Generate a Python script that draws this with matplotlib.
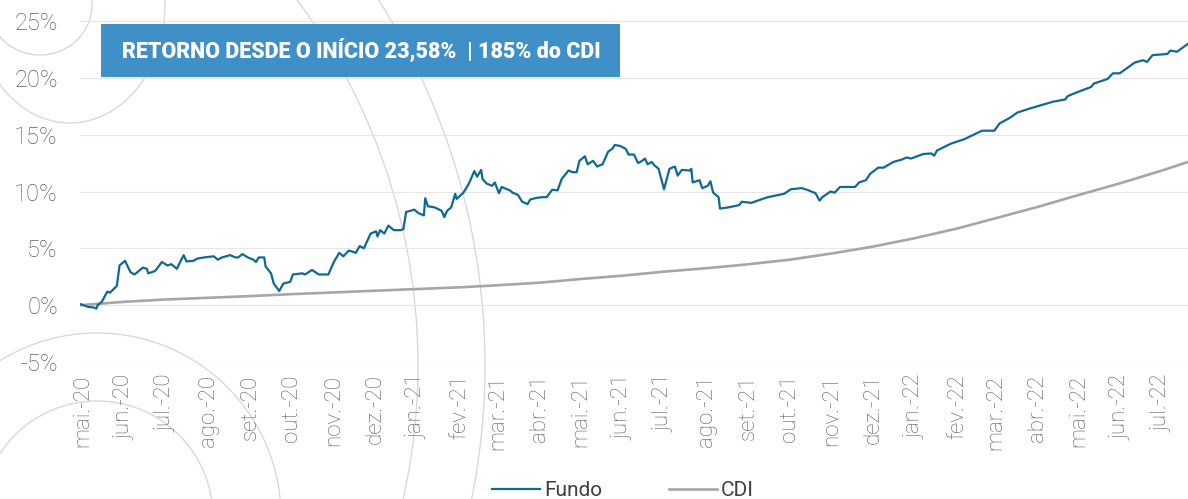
"""
Retorno acumulado do fundo vs CDI (mai/20 - jul/22).
"""
import matplotlib
matplotlib.use("Agg")
import matplotlib.pyplot as plt
from matplotlib.patches import Circle, Ellipse, Rectangle
import pandas as pd

plt.rcParams['font.family'] = ['Roboto', 'DejaVu Sans']
plt.rcParams['axes.unicode_minus'] = False

# --- data (% acumulado) ---
fundo_dates = [
    "2020-04-29", "2020-05-05", "2020-05-09", "2020-05-11", "2020-05-12", "2020-05-15",
    "2020-05-19", "2020-05-21", "2020-05-26", "2020-05-28", "2020-06-01", "2020-06-05",
    "2020-06-08", "2020-06-11", "2020-06-14", "2020-06-17", "2020-06-18", "2020-06-23",
    "2020-06-28", "2020-07-02", "2020-07-05", "2020-07-09", "2020-07-12", "2020-07-14",
    "2020-07-16", "2020-07-21", "2020-07-24", "2020-07-29", "2020-08-05", "2020-08-08",
    "2020-08-11", "2020-08-17", "2020-08-21", "2020-08-23", "2020-08-26", "2020-08-30",
    "2020-09-03", "2020-09-05", "2020-09-07", "2020-09-11", "2020-09-12", "2020-09-16",
    "2020-09-18", "2020-09-22", "2020-09-25", "2020-09-30", "2020-10-02", "2020-10-09",
    "2020-10-11", "2020-10-16", "2020-10-21", "2020-10-28", "2020-11-01", "2020-11-05",
    "2020-11-08", "2020-11-12", "2020-11-15", "2020-11-17", "2020-11-20", "2020-11-23",
    "2020-11-28", "2020-12-02", "2020-12-03", "2020-12-05", "2020-12-08", "2020-12-11",
    "2020-12-15", "2020-12-20", "2020-12-22", "2020-12-24", "2020-12-30", "2021-01-02",
    "2021-01-06", "2021-01-07", "2021-01-09", "2021-01-14", "2021-01-19", "2021-01-21",
    "2021-01-23", "2021-01-26", "2021-01-29", "2021-01-30", "2021-02-04", "2021-02-08",
    "2021-02-12", "2021-02-14", "2021-02-17", "2021-02-18", "2021-02-21", "2021-02-25",
    "2021-02-27", "2021-03-02", "2021-03-04", "2021-03-10", "2021-03-12", "2021-03-16",
    "2021-03-19", "2021-03-23", "2021-03-25", "2021-03-30", "2021-04-03", "2021-04-06",
    "2021-04-10", "2021-04-14", "2021-04-17", "2021-04-22", "2021-04-25", "2021-04-28",
    "2021-04-30", "2021-05-04", "2021-05-06", "2021-05-10", "2021-05-13", "2021-05-17",
    "2021-05-21", "2021-05-24", "2021-05-26", "2021-05-30", "2021-06-03", "2021-06-05",
    "2021-06-09", "2021-06-12", "2021-06-15", "2021-06-17", "2021-06-19", "2021-06-22",
    "2021-06-24", "2021-06-27", "2021-07-01", "2021-07-05", "2021-07-09", "2021-07-11",
    "2021-07-14", "2021-07-20", "2021-07-21", "2021-07-22", "2021-07-27", "2021-07-29",
    "2021-08-02", "2021-08-04", "2021-08-06", "2021-08-10", "2021-08-11", "2021-08-17",
    "2021-08-25", "2021-08-27", "2021-09-03", "2021-09-10", "2021-09-15", "2021-09-23",
    "2021-09-27", "2021-10-02", "2021-10-10", "2021-10-15", "2021-10-20", "2021-10-23",
    "2021-10-25", "2021-10-31", "2021-11-03", "2021-11-07", "2021-11-14", "2021-11-18",
    "2021-11-21", "2021-11-26", "2021-11-29", "2021-12-05", "2021-12-09", "2021-12-16",
    "2021-12-22", "2021-12-26", "2021-12-29", "2022-01-07", "2022-01-13", "2022-01-15",
    "2022-01-17", "2022-01-27", "2022-02-06", "2022-02-19", "2022-02-28", "2022-03-04",
    "2022-03-11", "2022-03-17", "2022-03-26", "2022-04-12", "2022-04-21", "2022-04-23",
    "2022-04-29", "2022-05-10", "2022-05-12", "2022-05-22", "2022-05-26", "2022-05-31",
    "2022-06-11", "2022-06-17", "2022-06-20", "2022-06-24", "2022-07-05", "2022-07-07",
    "2022-07-12", "2022-07-20",
]
fundo_vals = [
    0.1, -0.15, -0.2, -0.3, 0.0, 0.3,
    1.2, 1.1, 1.7, 3.5, 3.9, 2.9,
    2.7, 3.0, 3.3, 3.2, 2.8, 3.0,
    3.8, 3.5, 3.6, 3.2, 3.95, 4.4,
    3.85, 3.9, 4.1, 4.2, 4.3, 4.0,
    4.2, 4.4, 4.2, 4.2, 4.5, 4.2,
    4.0, 3.8, 4.2, 4.2, 3.4, 2.8,
    1.9, 1.25, 1.9, 2.05, 2.7, 2.8,
    2.7, 3.1, 2.7, 2.7, 3.8, 4.6,
    4.3, 4.8, 4.7, 4.6, 5.2, 5.0,
    6.3, 6.5, 6.05, 6.6, 6.3, 7.0,
    6.6, 6.6, 6.7, 8.2, 8.4, 8.1,
    7.9, 9.4, 8.7, 8.6, 8.3, 7.75,
    8.3, 8.6, 9.8, 9.35, 9.9, 10.7,
    11.8, 11.3, 11.9, 11.1, 10.7, 10.5,
    10.8, 9.85, 10.4, 10.1, 9.9, 9.7,
    9.1, 8.9, 9.3, 9.45, 9.5, 9.5,
    10.15, 10.1, 11.1, 11.85, 11.7, 11.7,
    12.7, 13.1, 12.4, 12.7, 12.2, 12.4,
    13.5, 13.75, 14.1, 14.0, 13.75, 13.25,
    13.25, 12.5, 12.7, 12.9, 12.4, 12.6,
    12.3, 12.0, 10.2, 12.0, 12.2, 11.4,
    11.9, 11.85, 12.0, 10.8, 11.0, 10.3,
    10.5, 10.9, 9.9, 9.5, 8.5, 8.6,
    8.8, 9.1, 9.0, 9.3, 9.5, 9.7,
    9.8, 10.2, 10.3, 10.1, 9.85, 9.2,
    9.5, 10.0, 9.9, 10.4, 10.4, 10.4,
    10.8, 11.0, 11.55, 12.1, 12.1, 12.6,
    12.8, 13.0, 12.9, 13.3, 13.35, 13.15,
    13.6, 14.2, 14.6, 15.35, 15.35, 16.0,
    16.45, 16.95, 17.3, 17.9, 18.1, 18.4,
    18.7, 19.2, 19.5, 19.9, 20.4, 20.4,
    21.35, 21.55, 21.4, 22.0, 22.1, 22.4,
    22.3, 23.0,
]

cdi_dates = [
    "2020-04-29", "2020-06-01", "2020-07-01", "2020-08-01", "2020-09-01", "2020-10-01",
    "2020-11-01", "2020-12-01", "2021-01-01", "2021-02-01", "2021-03-01", "2021-04-01",
    "2021-05-01", "2021-06-01", "2021-07-01", "2021-08-01", "2021-09-01", "2021-10-01",
    "2021-11-01", "2021-12-01", "2022-01-01", "2022-02-01", "2022-03-01", "2022-04-01",
    "2022-05-01", "2022-06-01", "2022-07-01", "2022-07-20",
]
cdi_vals = [
    0.0, 0.3, 0.5, 0.65, 0.8, 0.97,
    1.12, 1.27, 1.42, 1.57, 1.75, 1.98,
    2.3, 2.6, 2.95, 3.25, 3.6, 4.0,
    4.55, 5.15, 5.9, 6.75, 7.65, 8.65,
    9.7, 10.75, 11.85, 12.6,
]

month_labels = [
    "mai.-20", "jun.-20", "jul.-20", "ago.-20", "set.-20", "out.-20", "nov.-20", "dez.-20",
    "jan.-21", "fev.-21", "mar.-21", "abr.-21", "mai.-21", "jun.-21", "jul.-21", "ago.-21",
    "set.-21", "out.-21", "nov.-21", "dez.-21", "jan.-22", "fev.-22", "mar.-22", "abr.-22",
    "mai.-22", "jun.-22", "jul.-22",
]
y_ticks = [-5, 0, 5, 10, 15, 20, 25]
title_text = "RETORNO DESDE O INÍCIO 23,58%  | 185% do CDI"

FUNDO_COLOR = "#0e6a92"
CDI_COLOR = "#a6a6a6"
TICK_COLOR = "#5f5f5f"
DECO = "#d9d9d9"

fd = pd.to_datetime(fundo_dates)
cd = pd.to_datetime(cdi_dates)
month_ticks = pd.date_range("2020-05-01", periods=len(month_labels), freq="MS")

W, H = 1188, 499
fig = plt.figure(figsize=(W / 100, H / 100), dpi=100)
ax = fig.add_axes([80 / W, 1 - 362 / H, 1 - 80 / W, 362 / H])
ax.patch.set_visible(False)

# decorative background circles (pixel coords, y from top)
px = fig.dpi_scale_trans
def deco(cx, cy, r):
    fig.add_artist(Circle((cx / 100, (H - cy) / 100), r / 100, transform=px,
                          fill=False, ec=DECO, lw=1.0, zorder=-5))
deco(-194, 365, 612)
deco(-194, 365, 679)
deco(97, 517, 116)
deco(97, 517, 184)
fig.add_artist(Ellipse((40 / 100, (H - 5) / 100), 104 / 100, 100 / 100, transform=px,
                       fill=False, ec=DECO, lw=1.0, zorder=-5))
fig.add_artist(Ellipse((70 / 100, (H - 5) / 100), 190 / 100, 236 / 100, transform=px,
                       fill=False, ec=DECO, lw=1.0, zorder=-5))

ax.plot(cd, cdi_vals, color=CDI_COLOR, lw=1.9, label="CDI", zorder=3)
ax.plot(fd, fundo_vals, color=FUNDO_COLOR, lw=1.6, label="Fundo", zorder=4)

ax.set_xlim(fd[0], fd[-1])
ax.set_ylim(-5, 26.85)
ax.set_yticks(y_ticks)
ax.set_yticklabels([f"{v}%" for v in y_ticks], color=TICK_COLOR, fontsize=17,
                   fontweight="light")
ax.set_xticks(month_ticks)
ax.set_xticklabels(month_labels, rotation=90, color=TICK_COLOR, fontsize=16,
                   fontweight="light")
ax.tick_params(length=0)
ax.tick_params(axis="y", pad=16)
ax.tick_params(axis="x", pad=9)
ax.grid(axis="y", color="#e6e6e6", lw=0.8)
ax.set_axisbelow(True)
for s in ax.spines.values():
    s.set_visible(False)

# title box
fig.add_artist(Rectangle((101 / 100, (H - 77) / 100), 519 / 100, 53 / 100, transform=px,
                         fc="#4090c8", ec="none", zorder=5))
fig.text(361 / 100, (H - 51) / 100, title_text, transform=px, ha="center", va="center",
         color="white", fontsize=15.5, fontweight="heavy", zorder=6)

handles, labels = ax.get_legend_handles_labels()
ax.legend(handles[::-1], labels[::-1], loc="center", bbox_to_anchor=(623 / W, 1 - 491 / H),
          bbox_transform=fig.transFigure, ncol=2, frameon=False, fontsize=15,
          handlelength=2.3, handletextpad=0.2, columnspacing=3.2, labelcolor="#404040")

fig.savefig("out.png", dpi=100)
